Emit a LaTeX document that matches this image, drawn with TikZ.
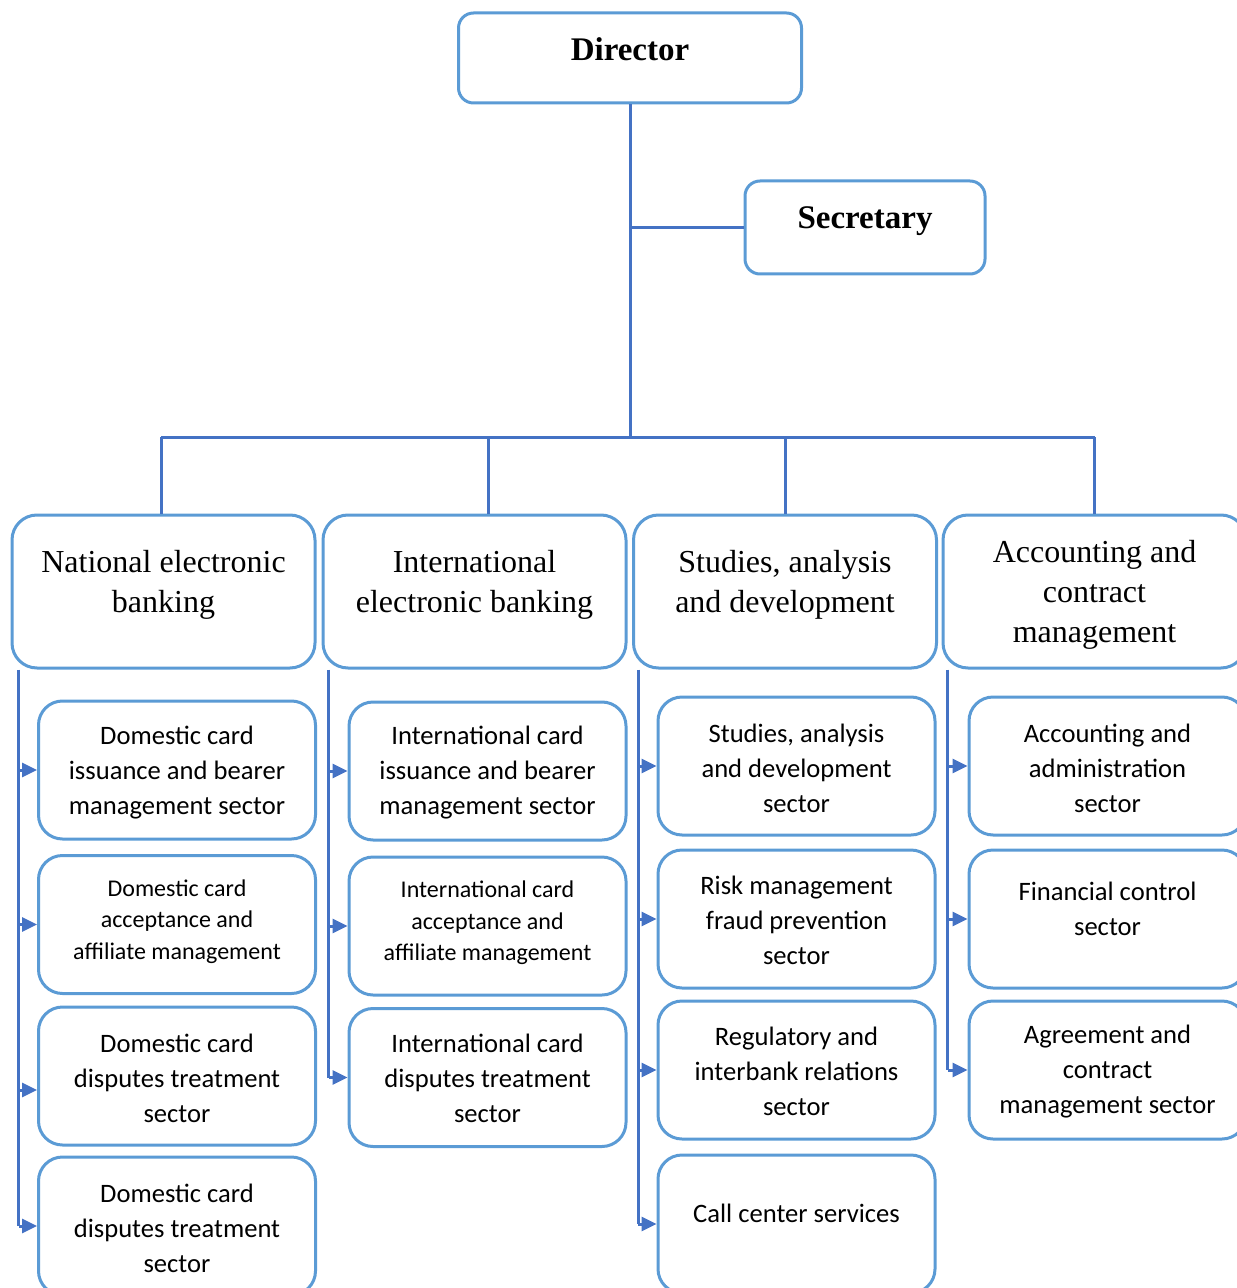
\documentclass[tikz,border=0pt]{standalone}
\usepackage{fontspec}
\setmainfont{Liberation Serif}
\newfontfamily\calib{Carlito}
\usepackage{tikz}
\usetikzlibrary{calc,arrows.meta}
\definecolor{boxline}{HTML}{5B9BD5}
\definecolor{linkblue}{HTML}{4472C4}
\definecolor{ink}{HTML}{000000}
\tikzset{
  topbox/.style  = {draw=boxline, fill=white, line width=1.5pt, rounded corners=7.5pt},
  headbox/.style = {draw=boxline, fill=white, line width=1.5pt, rounded corners=12.5pt, minimum width=151.5pt, minimum height=76.5pt},
  unitbox/.style = {draw=boxline, fill=white, line width=1.5pt, rounded corners=12pt, minimum width=138.5pt, minimum height=69pt},
  toptxt/.style  = {font=\fontsize{16.5}{19}\selectfont\bfseries\color{ink}, inner sep=0pt, outer sep=0pt},
  headtxt/.style = {font=\fontsize{16}{20}\selectfont\color{ink}, align=center, inner sep=0pt, outer sep=0pt},
  unittxt/.style = {font=\fontsize{13.3}{17.5}\selectfont\calib\color{ink}, align=center, inner sep=0pt, outer sep=0pt},
  unitsm/.style  = {font=\fontsize{12}{15.75}\selectfont\calib\color{ink}, align=center, inner sep=0pt, outer sep=0pt},
  link/.style    = {draw=linkblue, line width=1.5pt},
  feed/.style    = {link, -{Triangle[length=7.5pt,width=7pt]}},
}

\begin{document}
\begin{tikzpicture}[x=0.5pt,y=-0.5pt]
\path[use as bounding box] (0,0) rectangle (1236,1288);

% ---- director and secretary ---------------------------------------------
\node[topbox, minimum width=171.5pt, minimum height=45pt] (dir) at (630,58) {};
\node[toptxt] (dirT) at ([yshift=4.5pt]dir.center) {Director};
\node[topbox, minimum width=120pt, minimum height=46.5pt] (sec) at (865,227.5) {};
\node[toptxt] (secT) at ([yshift=3.25pt]sec.center) {Secretary};
\coordinate (busy) at (0,437);

% ---- departments --------------------------------------------------------
\node[headbox] (natl) at (163.5,591.5) {};
\node[headtxt] (natlT) at ([yshift=3.25pt]natl.center) {National electronic\\banking};
\node[headbox] (intl) at (474.5,591.5) {};
\node[headtxt] (intlT) at ([yshift=3.25pt]intl.center) {International\\electronic banking};
\node[headbox] (stud) at (785,591.5) {};
\node[headtxt] (studT) at ([yshift=3.25pt]stud.center) {Studies, analysis\\and development};
\node[headbox] (acc) at (1094.5,591.5) {};
\node[headtxt] (accT) at ([yshift=-1.5pt]acc.center) {Accounting and\\contract\\management};

% ---- national column ----------------------------------------------------
\node[unitbox] (a1) at (177,770) {};
\node[unittxt] (a1T) at ([yshift=-1.25pt]a1.center) {Domestic card\\issuance and bearer\\management sector};
\node[unitbox] (a2) at (177,924.5) {};
\node[unitsm] (a2T) at ([yshift=1.5pt]a2.center) {Domestic card\\acceptance and\\affiliate management};
\node[unitbox] (a3) at (177,1076) {};
\node[unittxt] (a3T) at ([yshift=-1pt]a3.center) {Domestic card\\disputes treatment\\sector};
\node[unitbox] (a4) at (177,1226) {};
\node[unittxt] (a4T) at ([yshift=-1pt]a4.center) {Domestic card\\disputes treatment\\sector};

% ---- international column -----------------------------------------------
\node[unitbox] (b1) at (487.5,771) {};
\node[unittxt] (b1T) at ([yshift=-1pt]b1.center) {International card\\issuance and bearer\\management sector};
\node[unitbox] (b2) at (487.5,926) {};
\node[unitsm] (b2T) at ([yshift=1.5pt]b2.center) {International card\\acceptance and\\affiliate management};
\node[unitbox] (b3) at (487.5,1077.5) {};
\node[unittxt] (b3T) at ([yshift=-0.5pt]b3.center) {International card\\disputes treatment\\sector};

% ---- studies column -----------------------------------------------------
\node[unitbox] (c1) at (796.5,766) {};
\node[unittxt] (c1T) at ([yshift=-1pt]c1.center) {Studies, analysis\\and development\\sector};
\node[unitbox] (c2) at (796.5,919) {};
\node[unittxt] (c2T) at ([yshift=-0.5pt]c2.center) {Risk management\\fraud prevention\\sector};
\node[unitbox] (c3) at (796.5,1070) {};
\node[unittxt] (c3T) at ([yshift=-0.5pt]c3.center) {Regulatory and\\interbank relations\\sector};
\node[unitbox] (c4) at (796.5,1224) {};
\node[unittxt] (c4T) at ([yshift=5.5pt]c4.center) {Call center services};

% ---- accounting column --------------------------------------------------
\node[unitbox] (d1) at (1107.5,766) {};
\node[unittxt] (d1T) at ([yshift=-1pt]d1.center) {Accounting and\\administration\\sector};
\node[unitbox] (d2) at (1107.5,919) {};
\node[unittxt] (d2T) at ([yshift=5.25pt]d2.center) {Financial control\\sector};
\node[unitbox] (d3) at (1107.5,1070) {};
\node[unittxt] (d3T) at ([yshift=-1pt]d3.center) {Agreement and\\contract\\management sector};

% ---- links --------------------------------------------------------------
\draw[link] (dir.south) -- (dir.south |- busy);
\draw[link] (sec.west) -- (sec.west -| dir.south);
\draw[link] ($(natl.north |- busy)+(-2.5,0)$) -- (acc.north |- busy);
\draw[link] ($(natl.north)+(-2.5,0)$) -- ($(natl.north |- busy)+(-2.5,0)$);
\draw[link] ($(intl.north)+(13.5,0)$) -- ($(intl.north |- busy)+(13.5,0)$);
\draw[link] (stud.north) -- (stud.north |- busy);
\draw[link] (acc.north) -- (acc.north |- busy);

% feeders down the left side of each department
\coordinate (natlF) at ([xshift=4pt]natl.south west);
\coordinate (intlF) at ([xshift=3.5pt]intl.south west);
\coordinate (studF) at ([xshift=3pt]stud.south west);
\coordinate (accF)  at ([xshift=3pt]acc.south west);
\coordinate (a3in)  at ([yshift=-7pt]a3.west);

\draw[link] (natlF) -- (natlF |- a4.west);
\foreach \u in {a1,a2,a4}{\draw[feed] (natlF |- \u.west) -- (\u.west);}
\draw[feed] (natlF |- a3in) -- (a3in);

\draw[link] (intlF) -- (intlF |- b3.west);
\foreach \u in {b1,b2,b3}{\draw[feed] (intlF |- \u.west) -- (\u.west);}

\draw[link] (studF) -- (studF |- c4.west);
\foreach \u in {c1,c2,c3,c4}{\draw[feed] (studF |- \u.west) -- (\u.west);}

\draw[link] (accF) -- (accF |- d3.west);
\foreach \u in {d1,d2,d3}{\draw[feed] (accF |- \u.west) -- (\u.west);}

\end{tikzpicture}
\end{document}
